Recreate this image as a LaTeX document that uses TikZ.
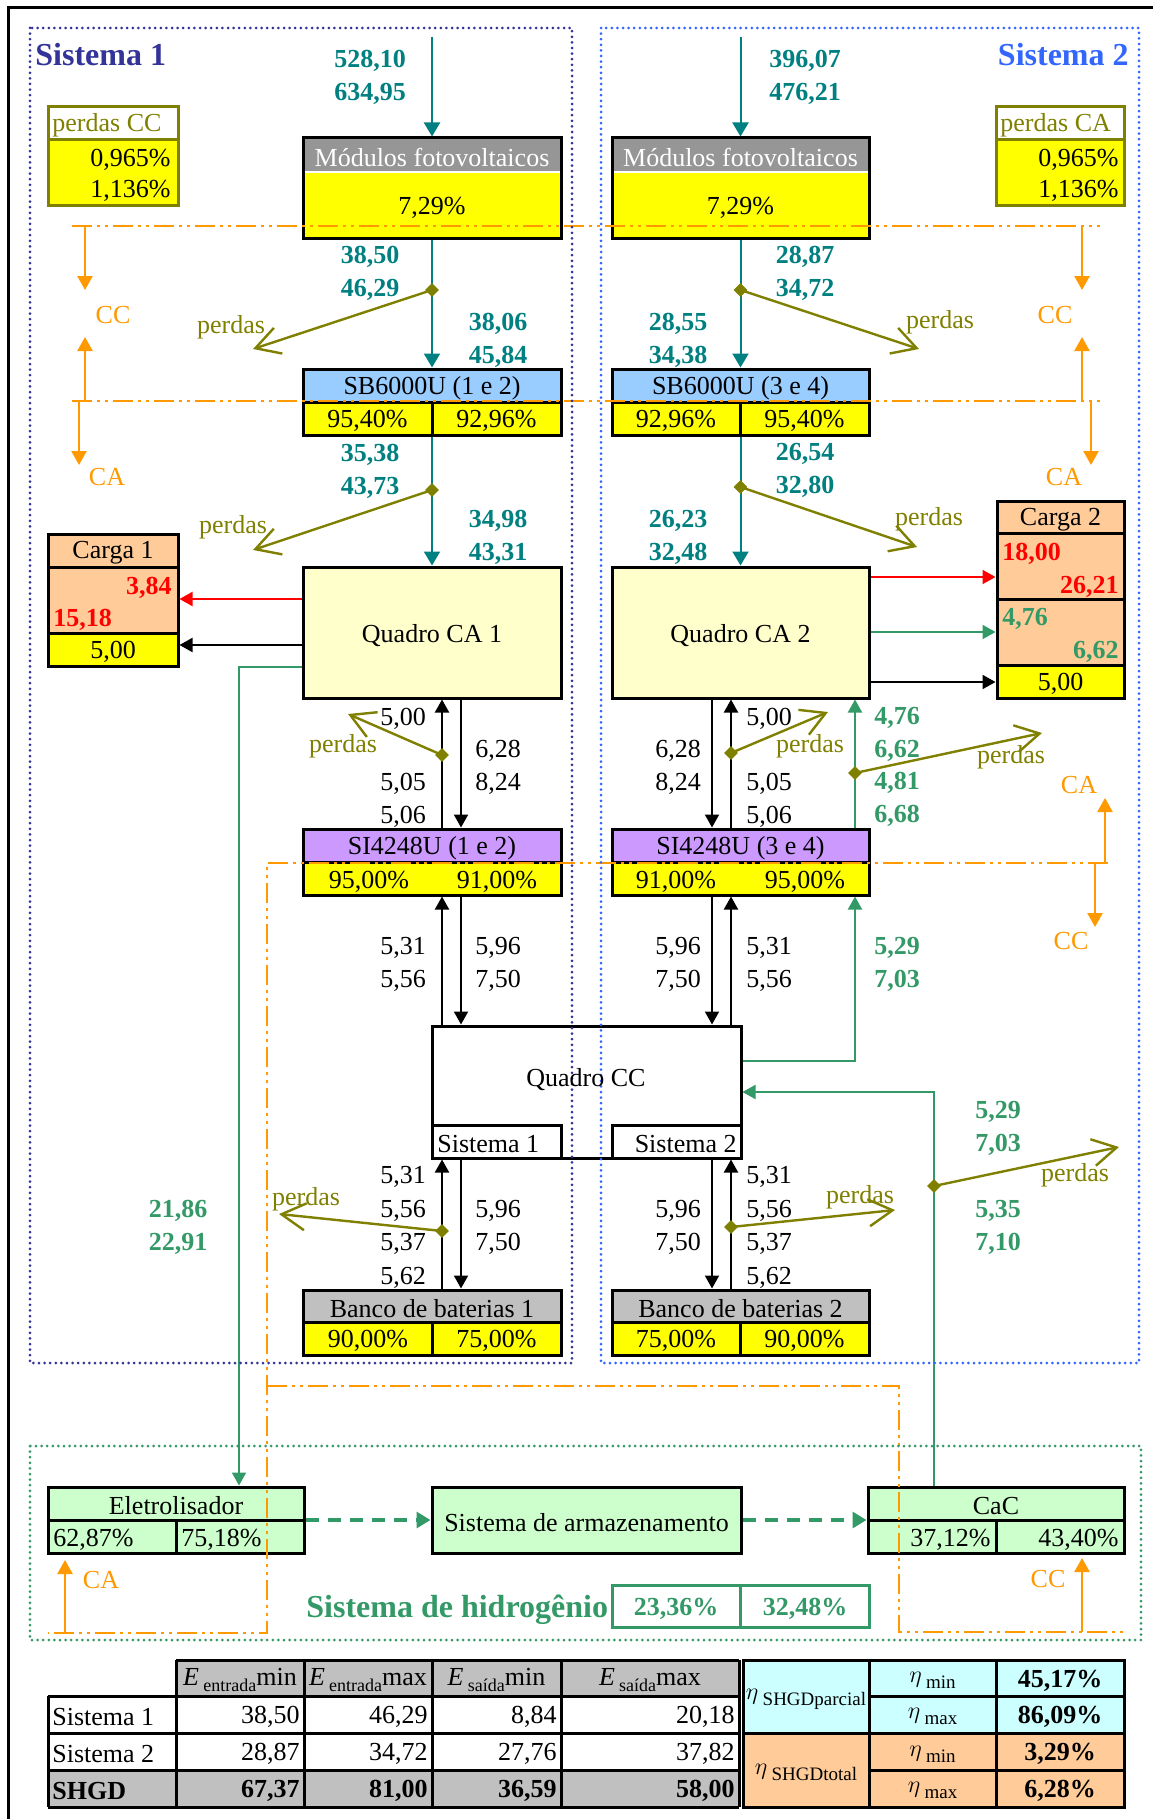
\documentclass[tikz,border=0pt]{standalone}
\usepackage{fontspec}
\setmainfont{Liberation Serif}
\usetikzlibrary{arrows.meta,shapes.geometric,fit}
\definecolor{cteal}{HTML}{008080}
\definecolor{colive}{HTML}{808000}
\definecolor{corange}{HTML}{FF9900}
\definecolor{cgreen}{HTML}{339966}
\definecolor{cred}{HTML}{FF0000}
\definecolor{cyel}{HTML}{FFFF00}
\definecolor{cpeach}{HTML}{FFCC99}
\definecolor{cblue}{HTML}{99CCFF}
\definecolor{cpurple}{HTML}{CC99FF}
\definecolor{cltyel}{HTML}{FFFFCC}
\definecolor{cltgreen}{HTML}{CCFFCC}
\definecolor{cltcyan}{HTML}{CCFFFF}
\definecolor{cgrayA}{HTML}{969696}
\definecolor{cgrayB}{HTML}{C0C0C0}
\definecolor{csysA}{HTML}{333399}
\definecolor{csysB}{HTML}{3366FF}
\newcommand{\Esub}[2]{{\itshape E}\,\raisebox{-3pt}{\fontsize{9}{9}\selectfont #1}#2}
\newcommand{\etasub}[1]{$\eta$\,\raisebox{-3pt}{\fontsize{9.5}{9.5}\selectfont #1}}
\begin{document}
\begin{tikzpicture}[x=0.5pt,y=-0.5pt,
  box/.style={draw=black,line width=1.5pt,inner sep=0pt},
  obox/.style={draw=colive,line width=1.5pt,inner sep=0pt},
  gbox/.style={draw=cgreen,line width=1.5pt,inner sep=0pt},
  sep/.style={line width=1.5pt},
  txt/.style={inner sep=0pt,align=center,yshift=-1.2pt,font=\fontsize{13}{16.5}\selectfont},
  bnum/.style={inner sep=0pt,align=center,yshift=-1.2pt,font=\fontsize{13}{16.5}\selectfont\bfseries},
  tnum/.style={bnum,text=cteal},
  gnum/.style={bnum,text=cgreen},
  rnum/.style={bnum,text=cred},
  knum/.style={txt},
  knumf/.style={txt,font=\fontsize{13}{16.7}\selectfont},
  otxt/.style={txt,text=colive},
  ortxt/.style={txt,text=corange},
  tealar/.style={draw=cteal,line width=1pt,-{Triangle[length=7pt,width=8pt]}},
  bar/.style={draw=black,line width=1pt,-{Triangle[length=6.5pt,width=7pt]}},
  redar/.style={bar,draw=cred},
  gar/.style={bar,draw=cgreen},
  gdash/.style={draw=cgreen,line width=1.6pt,dash pattern=on 6.5pt off 4.5pt,-{Triangle[length=7pt,width=8pt]}},
  oar/.style={draw=colive,line width=1.2pt,-{Straight Barb[length=12pt,width=13.5pt]}},
  orar/.style={draw=corange,line width=1.2pt,-{Triangle[length=7pt,width=7.5pt]}},
  ordash/.style={draw=corange,line width=1.2pt,dash pattern=on 10pt off 2.5pt on 1.5pt off 2.5pt on 1.5pt off 2.5pt},
  dotbox/.style={line width=1.5pt,line cap=round,dash pattern=on 0pt off 2.8pt},
  dmd/.style={diamond,fill=colive,inner sep=0pt,minimum size=7pt},
]
\useasboundingbox (0,0) rectangle (1153,1819);
\fill[white] (0,0) rectangle (1153,1819);
% outer frame
\draw[line width=1.5pt] (1153,8) -- (8,8) -- (8,1819);

% ---------- boxes ----------
% perdas CC
\fill[cyel] (48,140) rectangle (178,206);
\draw[colive,line width=1.5pt] (48,140) -- (178,140);
\node[obox,fit={(48,107) (178,206)}] (pcc) {};
% perdas CA
\fill[cyel] (996,140) rectangle (1124,206);
\draw[colive,line width=1.5pt] (996,140) -- (1124,140);
\node[obox,fit={(996,107) (1124,206)}] (pca) {};
% Modulos
\fill[cgrayA] (303,138) rectangle (561,172);
\fill[cyel] (303,172) rectangle (561,239);
\draw[white,line width=1.2pt] (303,172) -- (561,172);
\node[box,fit={(303,138) (561,239)}] (mod1) {};
\fill[cgrayA] (612,138) rectangle (869,172);
\fill[cyel] (612,172) rectangle (869,239);
\draw[white,line width=1.2pt] (612,172) -- (869,172);
\node[box,fit={(612,138) (869,239)}] (mod2) {};
% SB6000U
\fill[cblue] (303,369) rectangle (561,402);
\fill[cyel] (303,402) rectangle (561,435);
\draw[sep] (303,402) -- (561,402) (432,402) -- (432,435);
\node[box,fit={(303,369) (561,435)}] (sb1) {};
\fill[cblue] (612,369) rectangle (869,402);
\fill[cyel] (612,402) rectangle (869,435);
\draw[sep] (612,402) -- (869,402) (740,402) -- (740,435);
\node[box,fit={(612,369) (869,435)}] (sb2) {};
% Quadro CA
\node[box,fill=cltyel,fit={(303,567) (561,698)}] (qca1) {};
\node[box,fill=cltyel,fit={(612,567) (869,698)}] (qca2) {};
% Carga 1
\fill[cpeach] (48,534) rectangle (178,633);
\fill[cyel] (48,633) rectangle (178,666);
\draw[sep] (48,567) -- (178,567) (48,633) -- (178,633);
\node[box,fit={(48,534) (178,666)}] (car1) {};
% Carga 2
\fill[cpeach] (997,501) rectangle (1124,665);
\fill[cyel] (997,665) rectangle (1124,698);
\draw[sep] (997,533) -- (1124,533) (997,599) -- (1124,599) (997,665) -- (1124,665);
\node[box,fit={(997,501) (1124,698)}] (car2) {};
% SI4248U
\fill[cpurple] (303,829) rectangle (561,862);
\fill[cyel] (303,862) rectangle (561,895);
\draw[sep] (303,862) -- (561,862);
\node[box,fit={(303,829) (561,895)}] (si1) {};
\fill[cpurple] (612,829) rectangle (869,862);
\fill[cyel] (612,862) rectangle (869,895);
\draw[sep] (612,862) -- (869,862);
\node[box,fit={(612,829) (869,895)}] (si2) {};
% Quadro CC
\node[box,fill=white,fit={(432,1026) (741,1158)}] (qcc) {};
\node[box,fit={(432,1125) (561,1158)}] (qccA) {};
\node[box,fit={(612,1125) (741,1158)}] (qccB) {};
% Bancos
\fill[cgrayB] (303,1290) rectangle (561,1322);
\fill[cyel] (303,1322) rectangle (561,1355);
\draw[sep] (303,1322) -- (561,1322) (432,1322) -- (432,1355);
\node[box,fit={(303,1290) (561,1355)}] (ban1) {};
\fill[cgrayB] (612,1290) rectangle (869,1322);
\fill[cyel] (612,1322) rectangle (869,1355);
\draw[sep] (612,1322) -- (869,1322) (740,1322) -- (740,1355);
\node[box,fit={(612,1290) (869,1355)}] (ban2) {};
% hydrogen
\fill[cltgreen] (48,1487) rectangle (304,1553);
\draw[sep] (48,1520) -- (304,1520) (176,1520) -- (176,1553);
\node[box,fit={(48,1487) (304,1553)}] (ele) {};
\node[box,fill=cltgreen,fit={(432,1487) (741,1553)}] (arm) {};
\fill[cltgreen] (868,1487) rectangle (1124,1553);
\draw[sep] (868,1520) -- (1124,1520) (996,1520) -- (996,1553);
\node[box,fit={(868,1487) (1124,1553)}] (cac) {};
\node[gbox,fit={(612,1585) (869,1627)}] (h2) {};
\draw[cgreen,line width=1.5pt] (740,1585) -- (740,1627);

% ---------- table ----------
\fill[cgrayB] (176,1660) rectangle (739,1696);
\fill[cgrayB] (48,1770) rectangle (739,1807);
\fill[cltcyan] (743,1660) rectangle (1124,1733);
\fill[cpeach] (743,1733) rectangle (1124,1807);
\draw[line width=1.5pt] (176,1660) -- (739,1660)
  (48,1696) -- (739,1696) (48,1733) -- (739,1733) (48,1770) -- (739,1770) (48,1807) -- (739,1807)
  (48,1696) -- (48,1807) (176,1660) -- (176,1807) (304,1660) -- (304,1807)
  (432,1660) -- (432,1807) (561,1660) -- (561,1807) (739,1660) -- (739,1807);
\draw[line width=1.5pt] (743,1660) rectangle (1124,1807)
  (869,1696) -- (1124,1696) (743,1733) -- (1124,1733) (869,1770) -- (1124,1770)
  (869,1660) -- (869,1807) (996,1660) -- (996,1807);

% ---------- helper coordinates ----------
\coordinate (xA) at (442,0); \coordinate (xB) at (461,0);
\coordinate (xC) at (712,0); \coordinate (xD) at (731,0);
\coordinate (xG) at (855,0); \coordinate (xH) at (934,0);
\coordinate (xE) at (239,0);
\coordinate (yR1) at (0,599); \coordinate (yK1) at (0,645); \coordinate (yG1) at (0,667);
\coordinate (yR2) at (0,577); \coordinate (yG2) at (0,632); \coordinate (yK2) at (0,682);
\coordinate (yG4) at (0,1061); \coordinate (yG5) at (0,1092);

% ---------- connectors ----------
\coordinate (tin1) at (432,37);
\coordinate (tin2) at (740.5,37);
\draw[tealar] (tin1) -- (mod1.north);
\draw[tealar] (mod1.south) -- (sb1.north);
\draw[tealar] (sb1.south) -- (qca1.north);
\draw[tealar] (tin2) -- (mod2.north);
\draw[tealar] (mod2.south) -- (sb2.north);
\draw[tealar] (sb2.south) -- (qca2.north);

\draw[redar] (qca1.west |- yR1) -- (car1.east |- yR1);
\draw[bar] (qca1.west |- yK1) -- (car1.east |- yK1);
\draw[gar] (qca1.west |- yG1) -| (ele.north -| xE);
\draw[bar] (si1.north -| xA) -- (qca1.south -| xA);
\draw[bar] (qca1.south -| xB) -- (si1.north -| xB);
\draw[bar] (qcc.north -| xA) -- (si1.south -| xA);
\draw[bar] (si1.south -| xB) -- (qcc.north -| xB);
\draw[bar] (ban1.north -| xA) -- (qcc.south -| xA);
\draw[bar] (qcc.south -| xB) -- (ban1.north -| xB);

\draw[redar] (qca2.east |- yR2) -- (car2.west |- yR2);
\draw[gar] (qca2.east |- yG2) -- (car2.west |- yG2);
\draw[bar] (qca2.east |- yK2) -- (car2.west |- yK2);
\draw[bar] (qca2.south -| xC) -- (si2.north -| xC);
\draw[bar] (si2.north -| xD) -- (qca2.south -| xD);
\draw[gar] (si2.north -| xG) -- (qca2.south -| xG);
\draw[bar] (si2.south -| xC) -- (qcc.north -| xC);
\draw[bar] (qcc.north -| xD) -- (si2.south -| xD);
\draw[gar] (qcc.east |- yG4) -| (si2.south -| xG);
\draw[gar] (cac.north -| xH) |- (qcc.east |- yG5);
\draw[bar] (qcc.south -| xC) -- (ban2.north -| xC);
\draw[bar] (ban2.north -| xD) -- (qcc.south -| xD);

\draw[gdash] (ele.east) -- (arm.west);
\draw[gdash] (arm.east) -- (cac.west);

% losses
\coordinate (dc1) at (432,290);   \coordinate (o1) at (253,349);
\coordinate (dc2) at (432,490);   \coordinate (o2) at (253,550);
\coordinate (dc3) at (740.5,290); \coordinate (o3) at (919,349);
\coordinate (dc4) at (740.5,487); \coordinate (o4) at (917,547);
\coordinate (dc5) at (442,755);   \coordinate (o5) at (348,714);
\coordinate (dc6) at (731,753);   \coordinate (o6) at (828,712);
\coordinate (dc7) at (855,773);   \coordinate (o7) at (1042,733);
\coordinate (dc8) at (442,1231);  \coordinate (o8) at (279,1214);
\coordinate (dc9) at (731,1227);  \coordinate (o9) at (895,1210);
\coordinate (dc10) at (934,1186); \coordinate (o10) at (1119,1147);
\foreach \i in {1,...,10} { \draw[oar] (dc\i) -- (o\i); }

% ---------- orange boundaries ----------
\draw[ordash] (72,226) -- (1100,226);
\draw[ordash] (72,401) -- (1100,401);
\draw[ordash] (1108,863) -- (267,863) -- (267,1633) -- (48,1633);
\draw[ordash] (267,1386) -- (899,1386) -- (899,1632) -- (1124,1632);
\coordinate (oa1s) at (85,226);   \coordinate (oa1e) at (85,290);
\coordinate (oa2s) at (85,401);   \coordinate (oa2e) at (85,337);
\coordinate (oa3s) at (79,401);   \coordinate (oa3e) at (79,465);
\coordinate (oa4s) at (1082,226); \coordinate (oa4e) at (1082,290);
\coordinate (oa5s) at (1082,401); \coordinate (oa5e) at (1082,337);
\coordinate (oa6s) at (1091,401); \coordinate (oa6e) at (1091,465);
\coordinate (oa7s) at (1105,863); \coordinate (oa7e) at (1105,798);
\coordinate (oa8s) at (1095,863); \coordinate (oa8e) at (1095,927);
\coordinate (oa9s) at (65,1633);  \coordinate (oa9e) at (65,1560);
\coordinate (oa10s) at (1082,1632); \coordinate (oa10e) at (1082,1558);
\foreach \i in {1,...,10} { \draw[orar] (oa\i s) -- (oa\i e); }

% ---------- dotted system frames ----------
\draw[dotbox,csysA] (30,28) rectangle (572,1363);
\draw[dotbox,csysB] (601,28) rectangle (1139,1363);
\draw[dotbox,cgreen] (30,1446) rectangle (1141,1640);

% diamonds
\foreach \i in {1,...,10} { \node[dmd] (dm\i) at (dc\i) {}; }

% ---------- texts ----------
\node[inner sep=0pt,yshift=-1.2pt,font=\fontsize{16}{16}\selectfont\bfseries,text=csysA,anchor=west] (tS1) at (35,52) {Sistema 1};
\node[inner sep=0pt,yshift=-1.2pt,font=\fontsize{16}{16}\selectfont\bfseries,text=csysB,anchor=east] (tS2) at (1129,52) {Sistema 2};

\node[otxt,anchor=west] (tpcc) at (52,123) {perdas CC};
\node[txt,anchor=east] (tpcc1) at (171,157) {0,965\%};
\node[txt,anchor=east] (tpcc2) at (171,188) {1,136\%};
\node[otxt,anchor=west] (tpca) at (1000,123) {perdas CA};
\node[txt,anchor=east] (tpca1) at (1119,157) {0,965\%};
\node[txt,anchor=east] (tpca2) at (1119,188) {1,136\%};

\node[txt,text=white] (tm1h) at (432,155) {Módulos fotovoltaicos};
\node[txt] (tm1b) at (432,205) {7,29\%};
\node[txt,text=white] (tm2h) at (740.5,155) {Módulos fotovoltaicos};
\node[txt] (tm2b) at (740.5,205) {7,29\%};

\node[txt] (tsb1h) at (432,385.5) {SB6000U (1 e 2)};
\node[txt] (tsb1a) at (367.5,418.5) {95,40\%};
\node[txt] (tsb1b) at (496.5,418.5) {92,96\%};
\node[txt] (tsb2h) at (740.5,385.5) {SB6000U (3 e 4)};
\node[txt] (tsb2a) at (676,418.5) {92,96\%};
\node[txt] (tsb2b) at (804.5,418.5) {95,40\%};

\node[txt] (tq1) at (432,633) {Quadro CA 1};
\node[txt] (tq2) at (740.5,633) {Quadro CA 2};

\node[txt] (tc1h) at (113,550.5) {Carga 1};
\node[rnum,anchor=east] (tc1a) at (172,585) {3,84};
\node[rnum,anchor=west] (tc1b) at (53,617) {15,18};
\node[txt] (tc1c) at (113,649.5) {5,00};
\node[txt] (tc2h) at (1060.5,517) {Carga 2};
\node[rnum,anchor=west] (tc2a) at (1002,551) {18,00};
\node[rnum,anchor=east] (tc2b) at (1119,584) {26,21};
\node[gnum,anchor=west] (tc2c) at (1002,616) {4,76};
\node[gnum,anchor=east] (tc2d) at (1119,649) {6,62};
\node[txt] (tc2e) at (1060.5,681.5) {5,00};

\node[txt] (tsi1h) at (432,845.5) {SI4248U (1 e 2)};
\node[txt] (tsi1a) at (369,879) {95,00\%};
\node[txt] (tsi1b) at (497,879) {91,00\%};
\node[txt] (tsi2h) at (740.5,845.5) {SI4248U (3 e 4)};
\node[txt] (tsi2a) at (676,879) {91,00\%};
\node[txt] (tsi2b) at (805,879) {95,00\%};

\node[txt] (tqcc) at (586,1077) {Quadro CC};
\node[txt,anchor=west] (tqccA) at (437,1142) {Sistema 1};
\node[txt,anchor=east] (tqccB) at (737,1142) {Sistema 2};

\node[txt] (tb1h) at (432,1306) {Banco de baterias 1};
\node[txt] (tb1a) at (368,1338.5) {90,00\%};
\node[txt] (tb1b) at (496.5,1338.5) {75,00\%};
\node[txt] (tb2h) at (740.5,1306) {Banco de baterias 2};
\node[txt] (tb2a) at (676,1338.5) {75,00\%};
\node[txt] (tb2b) at (804.5,1338.5) {90,00\%};

\node[txt] (teleh) at (176,1503.5) {Eletrolisador};
\node[txt,anchor=west] (telea) at (53,1537) {62,87\%};
\node[txt,anchor=west] (teleb) at (181,1537) {75,18\%};
\node[txt] (tarm) at (586.5,1520) {Sistema de armazenamento};
\node[txt] (tcach) at (996,1503.5) {CaC};
\node[txt,anchor=east] (tcaca) at (991,1537) {37,12\%};
\node[txt,anchor=east] (tcacb) at (1119,1537) {43,40\%};
\node[gnum] (th2a) at (676,1606) {23,36\%};
\node[gnum] (th2b) at (805,1606) {32,48\%};
\node[inner sep=0pt,yshift=-1.2pt,font=\fontsize{16}{16}\selectfont\bfseries,text=cgreen,anchor=west] (th2) at (306,1607) {Sistema de hidrogênio};

% flow numbers
\node[tnum] (n1) at (370,74.5) {528,10\\634,95};
\node[tnum] (n2) at (370,271) {38,50\\46,29};
\node[tnum] (n3) at (498,337.5) {38,06\\45,84};
\node[tnum] (n4) at (370,468.5) {35,38\\43,73};
\node[tnum] (n5) at (498,535) {34,98\\43,31};
\node[tnum] (n6) at (805,74.5) {396,07\\476,21};
\node[tnum] (n7) at (805,271) {28,87\\34,72};
\node[tnum] (n8) at (678,337.5) {28,55\\34,38};
\node[tnum] (n9) at (805,468.5) {26,54\\32,80};
\node[tnum] (n10) at (678,535) {26,23\\32,48};

\node[knum] (k1) at (403,716) {5,00};
\node[knum] (k2) at (498,765) {6,28\\8,24};
\node[knum] (k3) at (403,797.5) {5,05\\5,06};
\node[knum] (k4) at (769,716) {5,00};
\node[knum] (k5) at (678,765) {6,28\\8,24};
\node[knum] (k6) at (769,797.5) {5,05\\5,06};
\node[knum] (k7) at (403,961.5) {5,31\\5,56};
\node[knum] (k8) at (498,961.5) {5,96\\7,50};
\node[knum] (k9) at (678,961.5) {5,96\\7,50};
\node[knum] (k10) at (769,961.5) {5,31\\5,56};
\node[knumf] (k11) at (403,1225) {5,31\\5,56\\5,37\\5,62};
\node[knum] (k12) at (498,1225) {5,96\\7,50};
\node[knum] (k13) at (678,1225) {5,96\\7,50};
\node[knumf] (k14) at (769,1225) {5,31\\5,56\\5,37\\5,62};

\node[gnum,font=\fontsize{13}{16.2}\selectfont\bfseries] (g1) at (897,764.5) {4,76\\6,62\\4,81\\6,68};
\node[gnum] (g2) at (897,961.5) {5,29\\7,03};
\node[gnum] (g3) at (998,1125.5) {5,29\\7,03};
\node[gnum] (g4) at (998,1225) {5,35\\7,10};
\node[gnum] (g5) at (178,1225) {21,86\\22,91};

% perdas labels
\node[otxt] (p1) at (231,325) {perdas};
\node[otxt] (p2) at (233,525) {perdas};
\node[otxt] (p3) at (940,320) {perdas};
\node[otxt] (p4) at (929,517) {perdas};
\node[otxt] (p5) at (343,744) {perdas};
\node[otxt] (p6) at (810,744) {perdas};
\node[otxt] (p7) at (1011,755) {perdas};
\node[otxt] (p8) at (306,1197) {perdas};
\node[otxt] (p9) at (860,1195) {perdas};
\node[otxt] (p10) at (1075,1173) {perdas};

% CC / CA labels
\node[ortxt] (c1) at (113,313) {CC};
\node[ortxt] (c2) at (107,475) {CA};
\node[ortxt] (c3) at (1055,313) {CC};
\node[ortxt] (c4) at (1064,475) {CA};
\node[ortxt] (c5) at (1079,783) {CA};
\node[ortxt] (c6) at (1071,939) {CC};
\node[ortxt] (c7) at (101,1578) {CA};
\node[ortxt] (c8) at (1048,1577) {CC};

% table texts
\node[txt] (h1) at (240,1678) {\Esub{entrada}{min}};
\node[txt] (h2) at (368,1678) {\Esub{entrada}{max}};
\node[txt] (h3) at (496.5,1678) {\Esub{saída}{min}};
\node[txt] (h4) at (650,1678) {\Esub{saída}{max}};
\node[txt,anchor=west] (r1) at (52,1714.5) {Sistema 1};
\node[txt,anchor=west] (r2) at (52,1751.5) {Sistema 2};
\node[bnum,anchor=west] (r3) at (52,1788.5) {SHGD};
\node[txt,anchor=east] (r1a) at (300,1714.5) {38,50};
\node[txt,anchor=east] (r1b) at (428,1714.5) {46,29};
\node[txt,anchor=east] (r1c) at (557,1714.5) {8,84};
\node[txt,anchor=east] (r1d) at (735,1714.5) {20,18};
\node[txt,anchor=east] (r2a) at (300,1751.5) {28,87};
\node[txt,anchor=east] (r2b) at (428,1751.5) {34,72};
\node[txt,anchor=east] (r2c) at (557,1751.5) {27,76};
\node[txt,anchor=east] (r2d) at (735,1751.5) {37,82};
\node[bnum,anchor=east] (r3a) at (300,1788.5) {67,37};
\node[bnum,anchor=east] (r3b) at (428,1788.5) {81,00};
\node[bnum,anchor=east] (r3c) at (557,1788.5) {36,59};
\node[bnum,anchor=east] (r3d) at (735,1788.5) {58,00};
\node[txt] (e1) at (806,1696.5) {\etasub{SHGDparcial}};
\node[txt] (e2) at (806,1770) {\etasub{SHGDtotal}};
\node[txt] (e3) at (932.5,1678) {\etasub{min}};
\node[txt] (e4) at (932.5,1714.5) {\etasub{max}};
\node[txt] (e5) at (932.5,1751.5) {\etasub{min}};
\node[txt] (e6) at (932.5,1788.5) {\etasub{max}};
\node[bnum] (v1) at (1060,1678) {45,17\%};
\node[bnum] (v2) at (1060,1714.5) {86,09\%};
\node[bnum] (v3) at (1060,1751.5) {3,29\%};
\node[bnum] (v4) at (1060,1788.5) {6,28\%};
\end{tikzpicture}
\end{document}
